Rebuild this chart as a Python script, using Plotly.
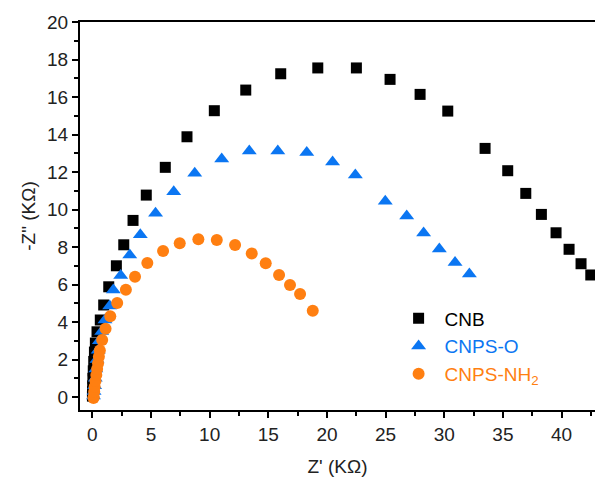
import plotly.graph_objects as go

# CNB (black squares)
cnb_x = [0.01, 0.02, 0.03, 0.05, 0.08, 0.12, 0.18, 0.26, 0.40, 0.68, 0.97, 1.40, 2.05, 2.68, 3.47,
         4.60, 6.22, 8.07, 10.40, 13.08, 16.06, 19.22, 22.51, 25.38, 27.94, 30.30, 33.48, 35.41,
         36.95, 38.28, 39.53, 40.64, 41.66, 42.49]
cnb_y = [0.05, 0.3, 0.6, 1.0, 1.4, 1.9, 2.4, 2.88, 3.48, 4.11, 4.91, 5.88, 7.00, 8.12, 9.42,
         10.77, 12.25, 13.88, 15.27, 16.37, 17.24, 17.55, 17.55, 16.94, 16.14, 15.25, 13.26, 12.07,
         10.86, 9.74, 8.76, 7.88, 7.11, 6.51]

# CNPS-O (blue triangles)
o_x = [0.10, 0.15, 0.20, 0.25, 0.30, 0.40, 0.50, 0.60, 0.80, 1.08, 1.48, 1.79, 2.42, 3.19, 4.09,
       5.39, 6.94, 8.73, 11.03, 13.38, 15.81, 18.28, 20.48, 22.42, 24.97, 26.80, 28.24, 29.58,
       30.92, 32.14]
o_y = [0.05, 0.3, 0.6, 1.0, 1.5, 2.0, 2.5, 3.0, 3.5, 4.11, 4.85, 5.71, 6.48, 7.57, 8.66,
       9.80, 10.95, 11.93, 12.69, 13.12, 13.12, 13.04, 12.53, 11.84, 10.44, 9.65, 8.75, 7.89,
       7.17, 6.56]

# CNPS-NH2 (orange circles)
nh_x = [0.10, 0.12, 0.16, 0.20, 0.27, 0.34, 0.41, 0.49, 0.56, 0.64, 0.84, 1.13, 1.53, 2.12, 2.86,
        3.64, 4.69, 6.03, 7.45, 9.04, 10.61, 12.17, 13.59, 14.78, 15.92, 16.85, 17.71, 18.79]
nh_y = [-0.05, 0.0, 0.28, 0.55, 0.85, 1.17, 1.50, 1.80, 2.15, 2.48, 3.04, 3.64, 4.31, 5.01, 5.72,
        6.42, 7.15, 7.79, 8.20, 8.41, 8.37, 8.11, 7.66, 7.13, 6.51, 5.97, 5.49, 4.60]

x_ticks = [0, 5, 10, 15, 20, 25, 30, 35, 40]
y_ticks = [0, 2, 4, 6, 8, 10, 12, 14, 16, 18, 20]

FONT = "Arial, Liberation Sans, sans-serif"
BLACK = "#000000"
BLUE = "#0b76f2"
ORANGE = "#ff7f11"

fig = go.Figure()
fig.add_trace(go.Scatter(x=cnb_x, y=cnb_y, mode="markers",
                         name=f'<span style="color:{BLACK}">CNB</span>',
                         marker=dict(symbol="square", size=11, color=BLACK)))
fig.add_trace(go.Scatter(x=o_x, y=o_y, mode="markers",
                         name=f'<span style="color:{BLUE}">CNPS-O</span>',
                         marker=dict(symbol="triangle-up", size=13, color=BLUE)))
fig.add_trace(go.Scatter(x=nh_x, y=nh_y, mode="markers",
                         name=f'<span style="color:{ORANGE}">CNPS-NH<sub>2</sub></span>',
                         marker=dict(symbol="circle", size=12, color=ORANGE)))

axis_common = dict(showline=True, linecolor="black", linewidth=2, ticks="outside",
                   ticklen=6, tickwidth=2, tickcolor="black", showgrid=False, zeroline=False,
                   tickfont=dict(family=FONT, size=19, color="#222"))

fig.update_xaxes(range=[-1.05, 42.85], tickvals=x_ticks, ticktext=[str(v) for v in x_ticks],
                 mirror=True,
                 minor=dict(ticks="outside", ticklen=4, tickwidth=2, tickcolor="black",
                            dtick=2.5, tick0=0),
                 title=dict(text="Z' (KΩ)", font=dict(family=FONT, size=19, color="#222"),
                            standoff=16),
                 **axis_common)
fig.update_yaxes(range=[-0.69, 20], tickvals=y_ticks, ticktext=[str(v) for v in y_ticks],
                 mirror=False,
                 minor=dict(ticks="outside", ticklen=4, tickwidth=2, tickcolor="black",
                            dtick=1, tick0=0),
                 title=dict(text='-Z" (KΩ)', font=dict(family=FONT, size=19, color="#222"),
                            standoff=6),
                 **axis_common)

fig.update_layout(
    width=595, height=479,
    margin=dict(l=80, r=0, t=22, b=69),
    plot_bgcolor="white", paper_bgcolor="white",
    showlegend=True,
    legend=dict(x=0.607, y=0.285, xanchor="left", yanchor="top", bgcolor="rgba(0,0,0,0)",
                font=dict(family=FONT, size=19, color=BLACK), itemwidth=42, tracegroupgap=0),
)

fig.write_html("out.html")
